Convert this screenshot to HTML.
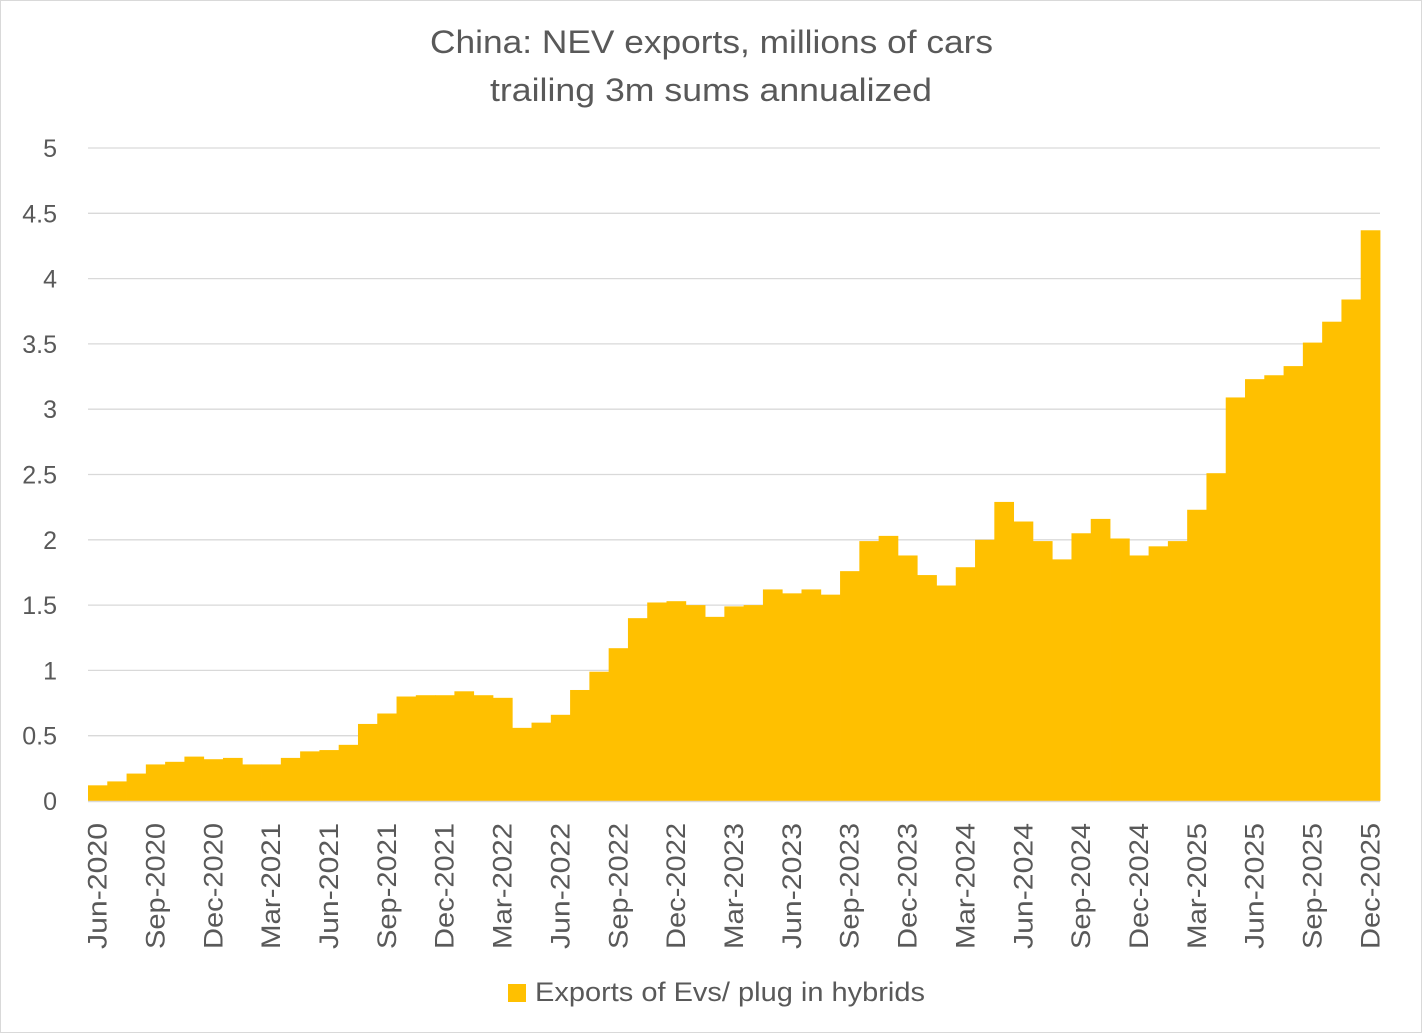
<!DOCTYPE html>
<html><head><meta charset="utf-8"><style>
html,body{margin:0;padding:0;background:#fff;}
svg{display:block;font-family:"Liberation Sans",sans-serif;}
</style></head><body>
<svg id="chart" width="1422" height="1033" viewBox="0 0 1422 1033">
<rect x="0.5" y="0.5" width="1421" height="1032" fill="#fff" stroke="#d9d9d9"/>
<text x="430" y="53" textLength="563" lengthAdjust="spacingAndGlyphs" font-size="32" fill="#595959">China: NEV exports, millions of cars</text>
<text x="490" y="101" textLength="442" lengthAdjust="spacingAndGlyphs" font-size="32" fill="#595959">trailing 3m sums annualized</text>
<g id="grid"></g><g id="bars"></g><g id="yticks"></g><g id="xticks"></g>
<line x1="88" x2="1380" y1="801.5" y2="801.5" stroke="#d9d9d9" stroke-width="1.5"/>
<rect x="508" y="984" width="18" height="18" fill="#FFC000"/>
<text x="535" y="1001" textLength="390" lengthAdjust="spacingAndGlyphs" font-size="27" fill="#595959">Exports of Evs/ plug in hybrids</text>
</svg>
<script>
const startYear = 2020, startMonth = 5;
const values = [0.12,0.15,0.21,0.28,0.30,0.34,0.32,
0.33,0.28,0.28,0.33,0.38,0.39,0.43,0.59,0.67,0.80,0.81,0.81,
0.84,0.81,0.79,0.56,0.60,0.66,0.85,0.99,1.17,1.40,1.52,1.53,
1.50,1.41,1.49,1.50,1.62,1.59,1.62,1.58,1.76,1.99,2.03,1.88,
1.73,1.65,1.79,2.00,2.29,2.14,1.99,1.85,2.05,2.16,2.01,1.88,
1.95,1.99,2.23,2.51,3.09,3.23,3.26,3.33,3.51,3.67,3.84,4.37];
const yTicks = [0,0.5,1,1.5,2,2.5,3,3.5,4,4.5,5];
const monthNames = ["Jan","Feb","Mar","Apr","May","Jun","Jul","Aug","Sep","Oct","Nov","Dec"];
const NS="http://www.w3.org/2000/svg";
const x0=88,x1=1380,yBase=801,yTop=148,yMax=5;
const bw=(x1-x0)/values.length;
const xs=i=>x0+i*bw;
const ys=v=>yBase-(v/yMax)*(yBase-yTop);
function mk(t,a,p){const e=document.createElementNS(NS,t);for(const k in a)e.setAttribute(k,a[k]);p.appendChild(e);return e;}
const grid=document.getElementById('grid'),bars=document.getElementById('bars'),yt=document.getElementById('yticks'),xt=document.getElementById('xticks');
yTicks.forEach(v=>{
  const l=mk('line',{x1:x0,x2:x1,y1:ys(v),y2:ys(v),stroke:'#d9d9d9','stroke-width':1.3},grid);
  
  
  const t=mk('text',{x:57,y:ys(v)+9,'text-anchor':'end','font-size':25,fill:'#595959'},yt);
  t.textContent=String(v);
  
  
});
values.forEach((v,i)=>{
  const r=mk('rect',{x:xs(i),y:ys(v),width:bw+0.4,height:yBase-ys(v),fill:'#FFC000'},bars);
  
  
  if(i%3===0){
    const m=(startMonth+i)%12,yr=startYear+Math.floor((startMonth+i)/12);
    const cx=xs(i)+bw/2+9;
    const t=mk('text',{x:0,y:0,'text-anchor':'end','font-size':27,fill:'#595959',textLength:126,lengthAdjust:'spacingAndGlyphs',transform:`translate(${cx},823) rotate(-90)`},xt);
    t.textContent=monthNames[m]+'-'+yr;
    
    
  }
});
</script>
</body></html>
